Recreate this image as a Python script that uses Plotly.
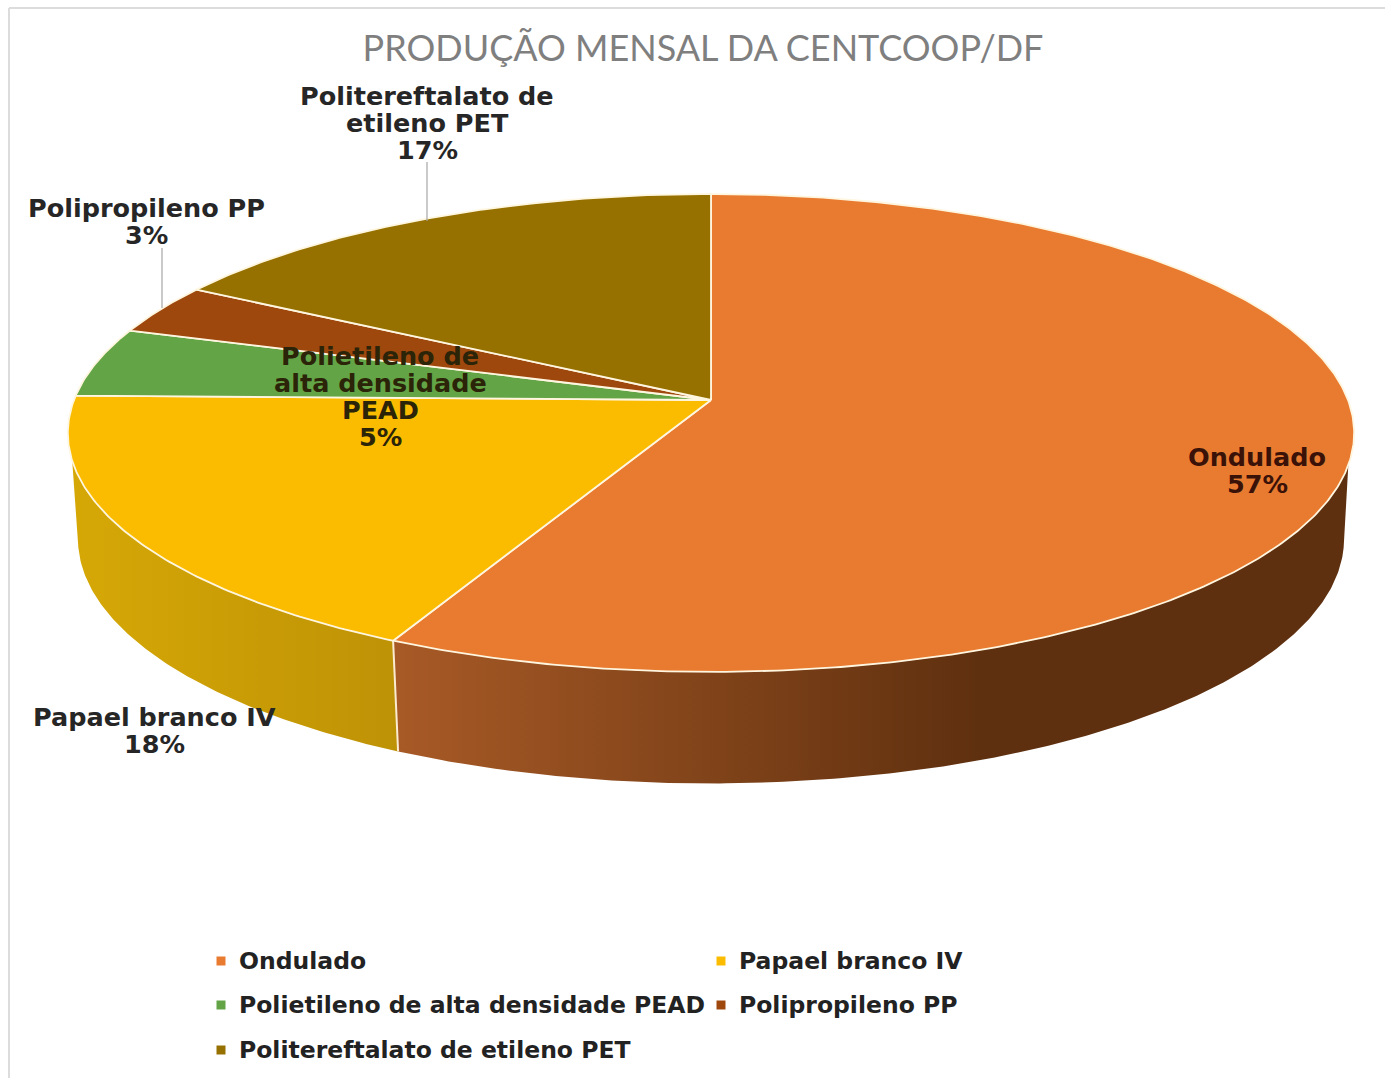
import numpy as np
import plotly.graph_objects as go

categories = ["Ondulado", "Papael branco IV", "Polietileno de alta densidade PEAD",
              "Polipropileno PP", "Politereftalato de etileno PET"]
values = [57.2, 18.1, 4.7, 3.4, 16.6]
top_colors = ["#E97B30", "#FBBC00", "#63A546", "#9E480E", "#967100"]
title_text = "PRODUÇÃO MENSAL DA CENTCOOP/DF"

W, H = 1385, 1078
CX = 711
TOP_Y, TOP_A, TOP_B = 400, 234.4, 637
BOT_Y, BOT_A, BOT_B = 505, 240, 627
K = 0.138


def project(theta_deg, y0, a, b):
    t = np.radians(theta_deg)
    u, v = np.sin(t), np.cos(t)
    d = 1 + K * v
    return CX + b * u / d, y0 - a * v / d


def arc(t0, t1, y0, a, b):
    n = max(2, int(abs(t1 - t0) * 2) + 1)
    return project(np.linspace(t0, t1, n), y0, a, b)


def pct(v):
    return f"{round(v)}%"


fig = go.Figure()
edges = np.concatenate([[0], np.cumsum(values)]) * 360.0 / sum(values)

# side walls (front part only), drawn first: top arc, then bottom arc back
walls = [
    (105.5, edges[1], 100, edges[1], [[0, "#A85A26"], [1, "#5F300F"]], 393, 980),
    (edges[1], 255.5, edges[1], 260, [[0, "#D6A806"], [1, "#BE9206"]], 72, 399),
]
for t0, t1, b0, b1, scale, g0, g1 in walls:
    xt, yt = arc(t0, t1, TOP_Y, TOP_A, TOP_B)
    xb, yb = arc(b1, b0, BOT_Y, BOT_A, BOT_B)
    fig.add_trace(go.Scatter(
        x=np.concatenate([xt, xb, xt[:1]]), y=np.concatenate([yt, yb, yt[:1]]),
        mode="lines", line=dict(width=0), fill="toself",
        fillgradient=dict(type="horizontal", colorscale=scale, start=g0, stop=g1),
        hoverinfo="skip", showlegend=False))

# seam between the two visible walls
xs1, ys1 = project(edges[1], TOP_Y, TOP_A, TOP_B)
xs2, ys2 = project(edges[1], BOT_Y, BOT_A, BOT_B)
fig.add_trace(go.Scatter(x=[xs1, xs2], y=[ys1, ys2], mode="lines",
                         line=dict(color="#FBEBD0", width=2), hoverinfo="skip", showlegend=False))

# top face wedges
for i, cat in enumerate(categories):
    xa, ya = arc(edges[i], edges[i + 1], TOP_Y, TOP_A, TOP_B)
    fig.add_trace(go.Scatter(
        x=np.concatenate([[CX], xa, [CX]]), y=np.concatenate([[TOP_Y], ya, [TOP_Y]]),
        mode="lines", line=dict(color="#FFF6E0", width=1.8), fill="toself",
        fillcolor=top_colors[i], name=cat, hoverinfo="name", showlegend=False))

# legend drawn as markers with text
legend_cells = [(0, 221, 961), (1, 721, 961), (2, 221, 1005), (3, 721, 1005), (4, 221, 1050)]
for i, lx, ly in legend_cells:
    fig.add_trace(go.Scatter(x=[lx], y=[ly], mode="markers",
                             marker=dict(symbol="square", size=9, color=top_colors[i]),
                             hoverinfo="skip", showlegend=False))
    fig.add_annotation(x=lx + 16, y=ly, text=categories[i], showarrow=False, xanchor="left",
                       font=dict(family="DejaVu Sans", size=23.5, color="#222222", weight="bold"))

# data labels, one annotation per line for the tight line spacing
label_rows = [
    (1257, [(457, "Ondulado"), (484, pct(values[0]))], "#3A1208"),
    (154, [(717, "Papael branco IV"), (744, pct(values[1]))], "#262626"),
    (380, [(356, "Polietileno de"), (383, "alta densidade"), (410, "PEAD"), (437, pct(values[2]))], "#2B2408"),
    (146, [(208, "Polipropileno PP"), (235, pct(values[3]))], "#262626"),
    (427, [(96, "Politereftalato de"), (123, "etileno PET"), (150, pct(values[4]))], "#262626"),
]
for lx, rows, col in label_rows:
    for ly, txt in rows:
        fig.add_annotation(x=lx, y=ly, text=txt, showarrow=False,
                           font=dict(family="DejaVu Sans", size=25.5, color=col, weight="bold"))

shapes = [
    dict(type="line", x0=9, x1=W, y0=8, y1=8, line=dict(color="#DCDCDC", width=2), layer="below"),
    dict(type="line", x0=9, x1=9, y0=8, y1=H, line=dict(color="#DCDCDC", width=2), layer="below"),
    dict(type="line", x0=427, x1=427, y0=162, y1=221, line=dict(color="#A6A6A6", width=1.2)),
    dict(type="line", x0=162, x1=162, y0=248, y1=308, line=dict(color="#A6A6A6", width=1.2)),
]

fig.update_layout(
    width=W, height=H, margin=dict(l=0, r=0, t=0, b=0),
    paper_bgcolor="white", plot_bgcolor="white", showlegend=False,
    title=dict(text=title_text, x=703 / W, xanchor="center", y=1 - 48 / H, yanchor="middle",
               font=dict(family="Lato", size=36, color="#7F7F7F")),
    xaxis=dict(range=[0, W], visible=False, fixedrange=True),
    yaxis=dict(range=[H, 0], visible=False, fixedrange=True),
    shapes=shapes,
)
fig.write_html("out.html", config={"displayModeBar": False},
               post_script="document.body.style.margin='0';")
